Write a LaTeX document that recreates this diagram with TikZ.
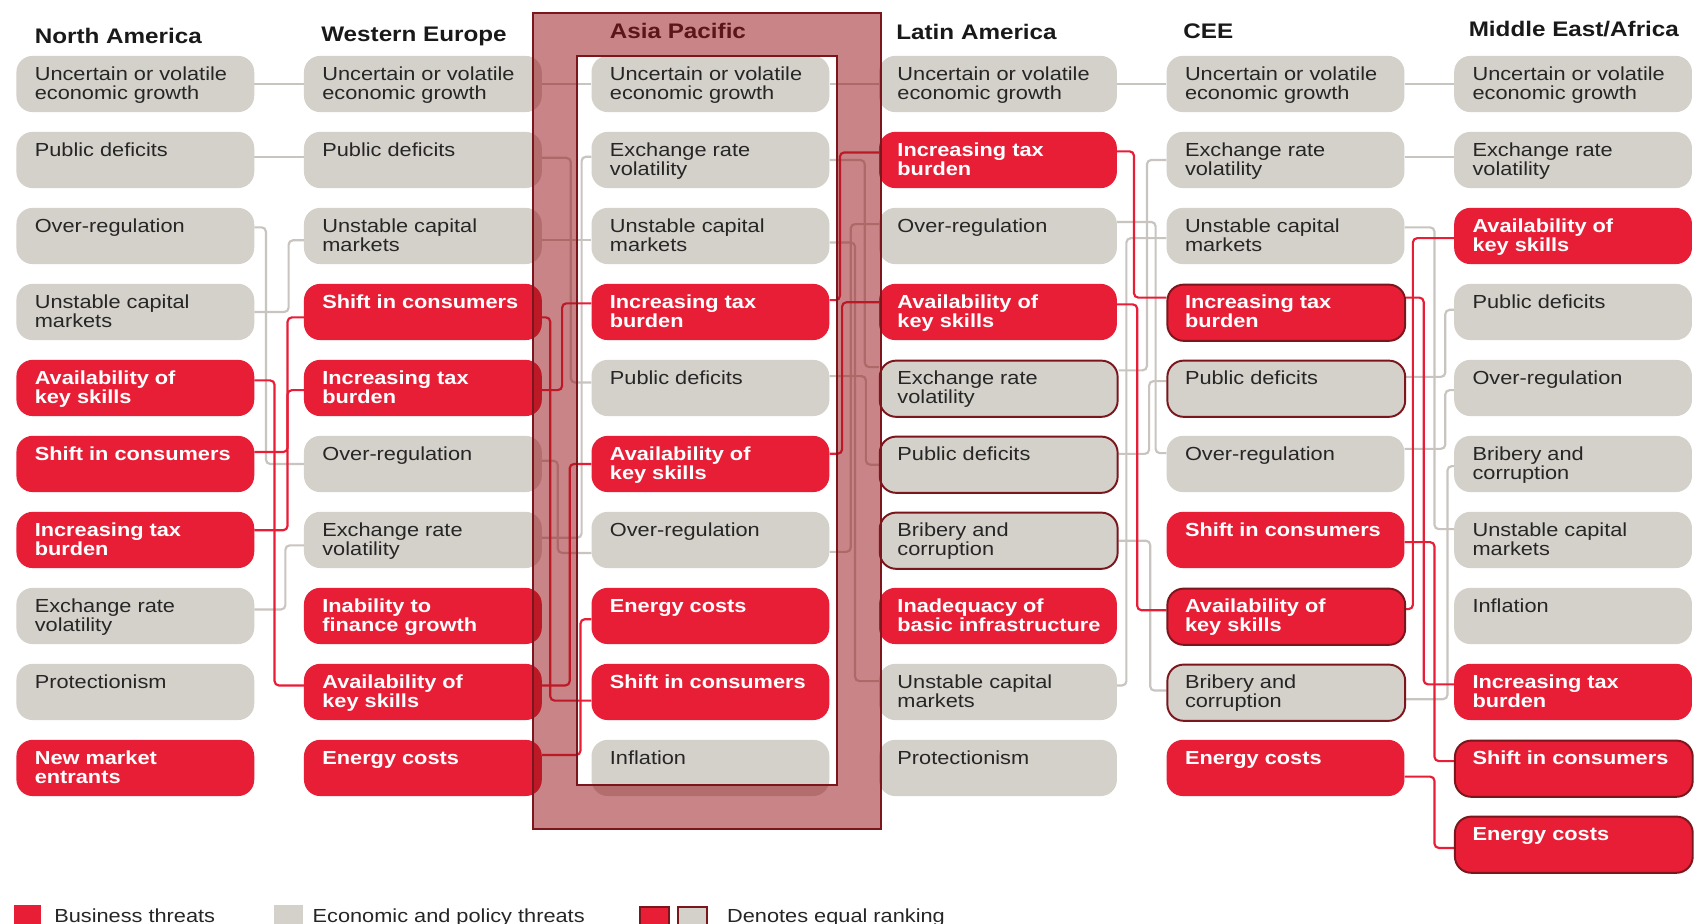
\documentclass[tikz,border=0pt]{standalone}
\usepackage{fontspec}
\setmainfont[FakeStretch=1.15]{Liberation Sans}
\definecolor{boxred}{RGB}{232,30,54}
\definecolor{boxgray}{RGB}{212,208,202}
\definecolor{linegray}{RGB}{200,196,191}
\definecolor{dkred}{RGB}{122,22,28}
\definecolor{txtdark}{RGB}{38,38,38}
\definecolor{headdark}{RGB}{25,25,25}
\definecolor{ovlred}{RGB}{150,20,25}
\pgfdeclarelayer{back}\pgfdeclarelayer{bg}\pgfdeclarelayer{fg}
\pgfsetlayers{back,bg,main,fg}
\newcommand{\bx}[6]{%
  \node[#4] (#1) at (#2,{51.5+70.3*(#3-1)}) {};
  \node[#5] (#1t) at ([xshift=17pt,yshift=-10.5pt]#1.north west) {#6};}
\newcommand{\conn}[6]{%
  \coordinate (cs) at ([yshift=#5pt]#2.east);
  \coordinate (cd) at ([yshift=#6pt]#3.west);
  \coordinate (cv) at (#4,0);
  \draw[#1] (cs) -- (cs -| cv) -- (cd -| cv) -- (cd);}
\newcommand{\sconn}[4]{%
  \draw[#1] ([yshift=#4pt]#2.east) -- ([yshift=#4pt]#3.west);}
\begin{document}
\begin{tikzpicture}[x=1pt,y=-1pt,
  tbox/.style={rectangle, rounded corners=15pt, minimum width=220pt, minimum height=52pt, inner sep=0pt, anchor=north west},
  gbox/.style={tbox, fill=boxgray},
  rbox/.style={tbox, fill=boxred},
  gboxo/.style={gbox, draw=dkred, line width=1.8pt},
  rboxo/.style={rbox, draw=dkred, line width=1.8pt},
  gtxt/.style={anchor=north west, inner sep=0pt, align=left, text=txtdark, font=\fontsize{17.5}{17}\selectfont},
  rtxt/.style={anchor=north west, inner sep=0pt, align=left, text=white, font=\fontsize{17.5}{17}\selectfont\bfseries},
  gline/.style={draw=linegray, line width=2pt, rounded corners=4pt},
  rline/.style={draw=boxred, line width=2pt, rounded corners=4pt},
  head/.style={anchor=base west, inner sep=0pt, text=headdark, font=\fontsize{19.5}{20}\selectfont\bfseries},
  legtxt/.style={anchor=base west, inner sep=0pt, text=txtdark, font=\fontsize{17.5}{17}\selectfont},
  legsq/.style={rectangle, anchor=north west, inner sep=0pt, minimum height=30pt}
]
\useasboundingbox (0,0) rectangle (1568,854);
\clip (0,0) rectangle (1568,854);
\begin{pgfonlayer}{back}
\fill[white] (0,0) rectangle (1568,854);
\end{pgfonlayer}

% headings
\node[head] (hna) at (32,40) {North America};
\node[head] (hwe) at (297,38.5) {Western Europe};
\node[head] (hap) at (564,36) {Asia Pacific};
\node[head] (hla) at (829,37) {Latin America};
\node[head] (hcee) at (1094.5,35.5) {CEE};
\node[head] (hmea) at (1358.5,34) {Middle East/Africa};

% North America
\bx{na1}{15}{1}{gbox}{gtxt}{Uncertain or volatile\\economic growth}
\bx{na2}{15}{2}{gbox}{gtxt}{Public deficits}
\bx{na3}{15}{3}{gbox}{gtxt}{Over-regulation}
\bx{na4}{15}{4}{gbox}{gtxt}{Unstable capital\\markets}
\bx{na5}{15}{5}{rbox}{rtxt}{Availability of\\key skills}
\bx{na6}{15}{6}{rbox}{rtxt}{Shift in consumers}
\bx{na7}{15}{7}{rbox}{rtxt}{Increasing tax\\burden}
\bx{na8}{15}{8}{gbox}{gtxt}{Exchange rate\\volatility}
\bx{na9}{15}{9}{gbox}{gtxt}{Protectionism}
\bx{na10}{15}{10}{rbox}{rtxt}{New market\\entrants}

% Western Europe
\bx{we1}{281}{1}{gbox}{gtxt}{Uncertain or volatile\\economic growth}
\bx{we2}{281}{2}{gbox}{gtxt}{Public deficits}
\bx{we3}{281}{3}{gbox}{gtxt}{Unstable capital\\markets}
\bx{we4}{281}{4}{rbox}{rtxt}{Shift in consumers}
\bx{we5}{281}{5}{rbox}{rtxt}{Increasing tax\\burden}
\bx{we6}{281}{6}{gbox}{gtxt}{Over-regulation}
\bx{we7}{281}{7}{gbox}{gtxt}{Exchange rate\\volatility}
\bx{we8}{281}{8}{rbox}{rtxt}{Inability to\\finance growth}
\bx{we9}{281}{9}{rbox}{rtxt}{Availability of\\key skills}
\bx{we10}{281}{10}{rbox}{rtxt}{Energy costs}

% Asia Pacific
\bx{ap1}{547}{1}{gbox}{gtxt}{Uncertain or volatile\\economic growth}
\bx{ap2}{547}{2}{gbox}{gtxt}{Exchange rate\\volatility}
\bx{ap3}{547}{3}{gbox}{gtxt}{Unstable capital\\markets}
\bx{ap4}{547}{4}{rbox}{rtxt}{Increasing tax\\burden}
\bx{ap5}{547}{5}{gbox}{gtxt}{Public deficits}
\bx{ap6}{547}{6}{rbox}{rtxt}{Availability of\\key skills}
\bx{ap7}{547}{7}{gbox}{gtxt}{Over-regulation}
\bx{ap8}{547}{8}{rbox}{rtxt}{Energy costs}
\bx{ap9}{547}{9}{rbox}{rtxt}{Shift in consumers}
\bx{ap10}{547}{10}{gbox}{gtxt}{Inflation}

% Latin America
\bx{la1}{813}{1}{gbox}{gtxt}{Uncertain or volatile\\economic growth}
\bx{la2}{813}{2}{rbox}{rtxt}{Increasing tax\\burden}
\bx{la3}{813}{3}{gbox}{gtxt}{Over-regulation}
\bx{la4}{813}{4}{rbox}{rtxt}{Availability of\\key skills}
\bx{la5}{813}{5}{gboxo}{gtxt}{Exchange rate\\volatility}
\bx{la6}{813}{6}{gboxo}{gtxt}{Public deficits}
\bx{la7}{813}{7}{gboxo}{gtxt}{Bribery and\\corruption}
\bx{la8}{813}{8}{rbox}{rtxt}{Inadequacy of\\basic infrastructure}
\bx{la9}{813}{9}{gbox}{gtxt}{Unstable capital\\markets}
\bx{la10}{813}{10}{gbox}{gtxt}{Protectionism}

% CEE
\bx{cee1}{1079}{1}{gbox}{gtxt}{Uncertain or volatile\\economic growth}
\bx{cee2}{1079}{2}{gbox}{gtxt}{Exchange rate\\volatility}
\bx{cee3}{1079}{3}{gbox}{gtxt}{Unstable capital\\markets}
\bx{cee4}{1079}{4}{rboxo}{rtxt}{Increasing tax\\burden}
\bx{cee5}{1079}{5}{gboxo}{gtxt}{Public deficits}
\bx{cee6}{1079}{6}{gbox}{gtxt}{Over-regulation}
\bx{cee7}{1079}{7}{rbox}{rtxt}{Shift in consumers}
\bx{cee8}{1079}{8}{rboxo}{rtxt}{Availability of\\key skills}
\bx{cee9}{1079}{9}{gboxo}{gtxt}{Bribery and\\corruption}
\bx{cee10}{1079}{10}{rbox}{rtxt}{Energy costs}

% Middle East/Africa
\bx{mea1}{1345}{1}{gbox}{gtxt}{Uncertain or volatile\\economic growth}
\bx{mea2}{1345}{2}{gbox}{gtxt}{Exchange rate\\volatility}
\bx{mea3}{1345}{3}{rbox}{rtxt}{Availability of\\key skills}
\bx{mea4}{1345}{4}{gbox}{gtxt}{Public deficits}
\bx{mea5}{1345}{5}{gbox}{gtxt}{Over-regulation}
\bx{mea6}{1345}{6}{gbox}{gtxt}{Bribery and\\corruption}
\bx{mea7}{1345}{7}{gbox}{gtxt}{Unstable capital\\markets}
\bx{mea8}{1345}{8}{gbox}{gtxt}{Inflation}
\bx{mea9}{1345}{9}{rbox}{rtxt}{Increasing tax\\burden}
\bx{mea10}{1345}{10}{rboxo}{rtxt}{Shift in consumers}
\bx{mea11}{1345}{11}{rboxo}{rtxt}{Energy costs}

% connectors
\begin{pgfonlayer}{bg}
% gray
\sconn{gline}{na1}{we1}{0}
\sconn{gline}{na2}{we2}{3}
\conn{gline}{na3}{we6}{246}{8}{0}
\conn{gline}{na4}{we3}{267}{0}{-4}
\conn{gline}{na8}{we7}{264}{6}{-5}
\sconn{gline}{we1}{ap1}{0}
\conn{gline}{we2}{ap5}{528}{2}{5}
\sconn{gline}{we3}{ap3}{-4}
\conn{gline}{we6}{ap7}{516}{3}{-12}
\conn{gline}{we7}{ap2}{538}{2}{3}
\sconn{gline}{ap1}{la1}{0}
\conn{gline}{ap2}{la5}{800}{0}{20}
\conn{gline}{ap3}{la9}{791}{-6}{10}
\conn{gline}{ap5}{la6}{801}{11}{0}
\conn{gline}{ap7}{la3}{787}{-11}{11}
\sconn{gline}{la1}{cee1}{0}
\conn{gline}{la3}{cee6}{1069}{13}{10}
\conn{gline}{la5}{cee2}{1061}{17}{0}
\conn{gline}{la6}{cee5}{1063}{10}{7}
\conn{gline}{la7}{cee9}{1064}{0}{2}
\conn{gline}{la9}{cee3}{1042}{6}{-2}
\sconn{gline}{cee1}{mea1}{0}
\sconn{gline}{cee2}{mea2}{3}
\conn{gline}{cee3}{mea7}{1327}{8}{10}
\conn{gline}{cee5}{mea4}{1337}{11}{2}
\conn{gline}{cee6}{mea5}{1337}{14}{-2}
\conn{gline}{cee9}{mea6}{1339}{-6}{-2}
% red
\conn{rline}{na5}{we9}{254}{7}{6}
\conn{rline}{na6}{we4}{266}{11}{-5}
\conn{rline}{na7}{we5}{266}{9}{-2}
\conn{rline}{we4}{ap9}{509}{-5}{-8}
\conn{rline}{we5}{ap4}{520}{-2}{8}
\conn{rline}{we9}{ap6}{527}{6}{0}
\conn{rline}{we10}{ap8}{537}{12}{-3}
\conn{rline}{ap4}{la2}{777}{11}{7}
\conn{rline}{ap6}{la4}{779}{9.5}{9}
\conn{rline}{la2}{cee4}{1049}{8}{14}
\conn{rline}{la4}{cee8}{1052}{7}{6}
\conn{rline}{cee4}{mea9}{1317}{14}{7}
\conn{rline}{cee7}{mea10}{1327}{-2}{7}
\conn{rline}{cee8}{mea3}{1307}{7}{-2}
\conn{rline}{cee10}{mea11}{1327}{-8}{-3}
\end{pgfonlayer}

% Asia Pacific highlight frame
\begin{pgfonlayer}{fg}
\fill[ovlred, fill opacity=0.52, even odd rule] (493,12) rectangle (815,767) (533.5,52) rectangle (774.5,726.5);
\draw[dkred, line width=2pt] (493,12) rectangle (815,767);
\draw[dkred, line width=2pt] (533.5,52) rectangle (774.5,726.5);
\end{pgfonlayer}

% legend
\node[legsq, fill=boxred, minimum width=25pt] (lg1) at (13,837) {};
\node[legtxt] (lg1t) at (50,853) {Business threats};
\node[legsq, fill=boxgray, minimum width=27pt] (lg2) at (253,837) {};
\node[legtxt] (lg2t) at (289,853) {Economic and policy threats};
\node[legsq, fill=boxred, draw=dkred, line width=2pt, minimum width=27pt] (lg3) at (591,838) {};
\node[legsq, fill=boxgray, draw=dkred, line width=2pt, minimum width=27pt] (lg4) at (626,838) {};
\node[legtxt] (lg3t) at (672.5,853) {Denotes equal ranking};
\end{tikzpicture}
\end{document}
